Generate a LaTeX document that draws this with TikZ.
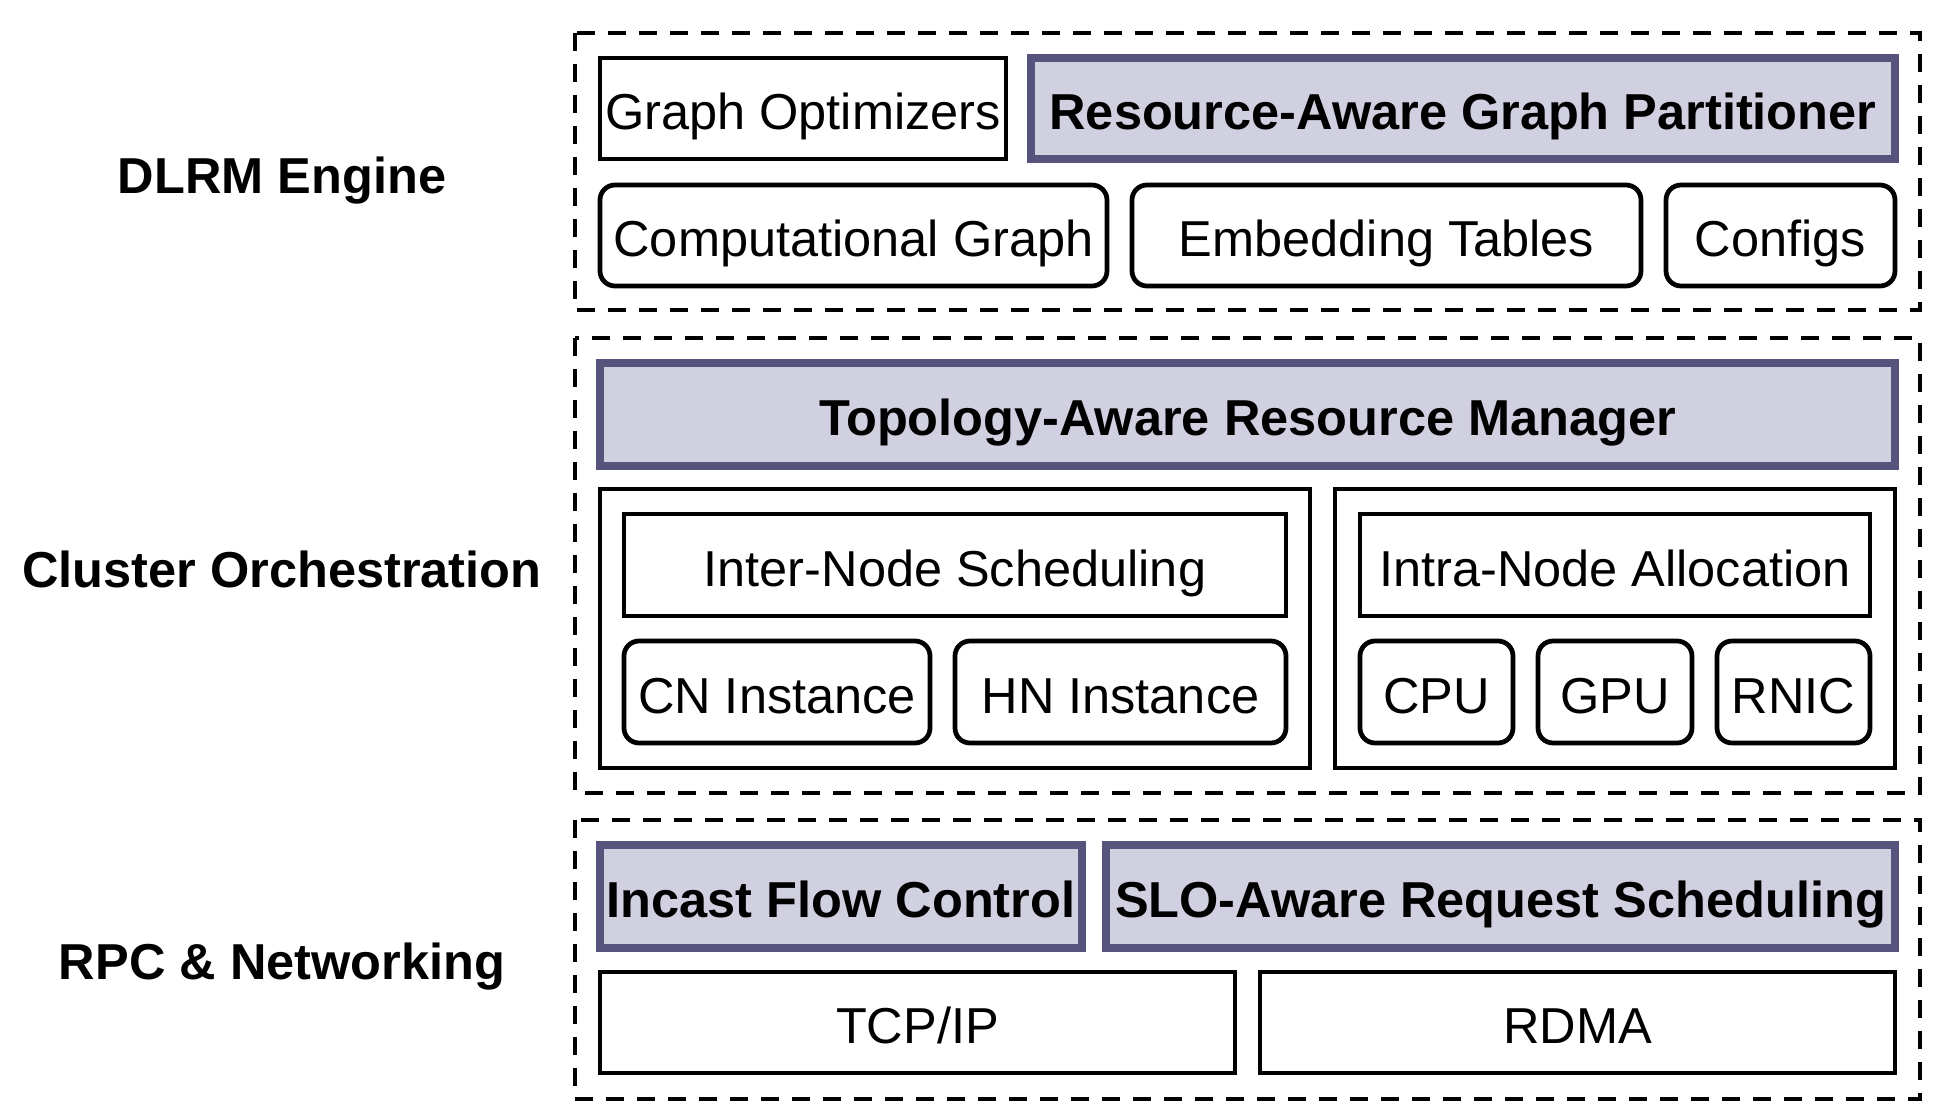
\documentclass[tikz,border=0pt]{standalone}
\usepackage{fontspec}
\setmainfont{Liberation Sans}
\usepackage{xcolor}
\definecolor{keyfill}{RGB}{208,208,225}
\definecolor{keydraw}{RGB}{86,84,124}
\tikzset{
  layer/.style={draw, line width=1.9pt, dash pattern=on 7.2pt off 5.2pt},
  boxsize/.style 2 args={minimum width=#1*0.4pt, minimum height=#2*0.4pt},
  plainbox/.style={draw, line width=1.9pt, inner sep=0pt, font=\fontsize{20.2}{24}\selectfont, text height=19.5pt, text depth=2.5pt},
  roundbox/.style={plainbox, rounded corners=6pt},
  keybox/.style={plainbox, draw=keydraw, fill=keyfill, line width=3pt, font=\fontsize{20.2}{24}\selectfont\bfseries},
  layerlabel/.style={inner sep=0pt, font=\fontsize{20.2}{24}\selectfont\bfseries, text height=18.2pt, text depth=4.2pt}
}
\begin{document}
\begin{tikzpicture}[x=0.4pt, y=-0.4pt]
				\useasboundingbox (0,0) rectangle (1942,1118);
				\fill[white] (0,0) rectangle (1942,1118);
				
				\draw[layer] (575,33) rectangle (1920,310);
				\draw[layer] (575,338) rectangle (1920,793);
				\draw[layer] (575,820) rectangle (1920,1099);
				
				\node[layerlabel] (engine) at (282,176) {DLRM Engine};
				\node[layerlabel] (orch) at (282,570) {Cluster Orchestration};
				\node[layerlabel] (rpc) at (282,962) {RPC \& Networking};
				
				\node[plainbox, boxsize={406}{101}] (optim) at (803,108.5) {Graph Optimizers};
				\node[keybox, boxsize={864}{101}] (partition) at (1463,108.5) {Resource-Aware Graph Partitioner};
				\node[roundbox, boxsize={507}{101}] (compgraph) at (853.5,235.5) {Computational Graph};
				\node[roundbox, boxsize={509}{101}] (embed) at (1386.5,235.5) {Embedding Tables};
				\node[roundbox, boxsize={229}{101}] (configs) at (1780.5,235.5) {Configs};
				
				\node[keybox, boxsize={1295}{103}] (manager) at (1247.5,414.5) {Topology-Aware Resource Manager};
				\node[plainbox, boxsize={710}{279}] (interbox) at (955,628.5) {};
				\node[plainbox, boxsize={560}{279}] (intrabox) at (1615,628.5) {};
				\node[plainbox, boxsize={662}{102}] (inter) at (955,565) {Inter-Node Scheduling};
				\node[plainbox, boxsize={510}{102}] (intra) at (1615,565) {Intra-Node Allocation};
				\node[roundbox, boxsize={306}{102}] (cn) at (777,692) {CN Instance};
				\node[roundbox, boxsize={331}{102}] (hn) at (1120.5,692) {HN Instance};
				\node[roundbox, boxsize={153}{102}] (cpu) at (1436.5,692) {CPU};
				\node[roundbox, boxsize={154}{102}] (gpu) at (1615,692) {GPU};
				\node[roundbox, boxsize={153}{102}] (rnic) at (1793.5,692) {RNIC};
				
				\node[keybox, boxsize={482}{103}] (incast) at (841,896.5) {Incast Flow Control};
				\node[keybox, boxsize={789}{103}] (slo) at (1500.5,896.5) {SLO-Aware Request Scheduling};
				\node[plainbox, boxsize={635}{101}] (tcp) at (917.5,1022.5) {TCP/IP};
				\node[plainbox, boxsize={635}{101}] (rdma) at (1577.5,1022.5) {RDMA};
			\end{tikzpicture}
\end{document}
